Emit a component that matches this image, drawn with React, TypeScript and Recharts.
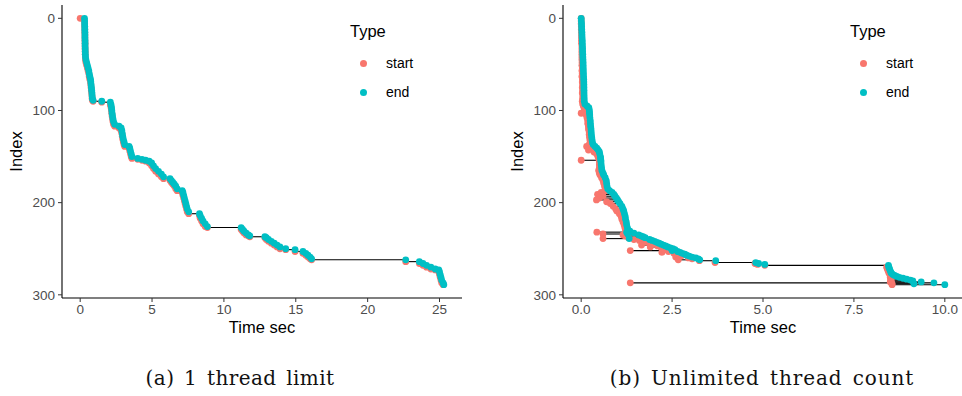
import React from 'react';
import { ErrorBar, Label, Scatter, ScatterChart, XAxis, YAxis } from 'recharts';

// (a) 1 thread limit
const leftIndex = [
  0, 3, 6, 9, 12, 15, 18, 21, 24, 27, 30, 33, 36, 39, 42, 45, 48, 51, 54, 57, 60, 63, 66, 69, 72, 75, 78, 81, 84, 87,
  89, 90, 91, 94, 97, 100, 103, 106, 109, 112, 115, 117, 119, 122, 125, 128, 131, 134, 137, 139, 141, 144, 147, 150,
  152, 153, 154, 155, 157, 160, 163, 166, 169, 172, 174, 176, 178, 180, 182, 185, 187, 189, 192, 195, 198, 201, 204,
  207, 210, 212, 214, 217, 220, 223, 226, 227, 229, 231, 233, 235, 236, 237, 238, 240, 242, 244, 246, 248, 250, 251,
  253, 255, 257, 259, 261, 262, 264, 266, 268, 270, 272, 273, 275, 278, 281, 284, 287, 289,
];
const leftStart = [
  0.0, 0.3, 0.31, 0.31, 0.32, 0.32, 0.33, 0.33, 0.33, 0.34, 0.34, 0.34, 0.35, 0.35, 0.36, 0.37, 0.4, 0.45, 0.5, 0.55,
  0.6, 0.63, 0.67, 0.72, 0.74, 0.76, 0.78, 0.8, 0.82, 0.83, 0.85, 0.9, 1.5, 2.1, 2.15, 2.18, 2.2, 2.22, 2.25, 2.28,
  2.32, 2.4, 2.7, 2.85, 2.9, 2.93, 2.96, 3.0, 3.05, 3.1, 3.4, 3.45, 3.5, 3.55, 3.6, 4.0, 4.3, 4.55, 4.8, 4.97, 5.1,
  5.25, 5.45, 5.65, 5.8, 6.25, 6.35, 6.45, 6.55, 6.65, 6.75, 7.1, 7.15, 7.2, 7.25, 7.3, 7.35, 7.4, 7.45, 7.55, 8.3,
  8.35, 8.45, 8.55, 8.7, 8.85, 11.2, 11.3, 11.4, 11.55, 11.7, 11.8, 12.85, 12.95, 13.1, 13.3, 13.5, 13.7, 13.9, 14.3,
  14.95, 15.5, 15.7, 15.85, 16.0, 16.1, 22.65, 23.6, 23.85, 24.1, 24.4, 24.7, 24.95, 25.0, 25.05, 25.1, 25.15, 25.25,
];
const leftEnd = [
  0.3, 0.31, 0.31, 0.32, 0.32, 0.33, 0.33, 0.33, 0.34, 0.34, 0.34, 0.35, 0.35, 0.36, 0.37, 0.4, 0.45, 0.5, 0.55, 0.6,
  0.63, 0.67, 0.72, 0.74, 0.76, 0.78, 0.8, 0.82, 0.83, 0.85, 0.9, 1.5, 2.1, 2.15, 2.18, 2.2, 2.22, 2.25, 2.28, 2.32,
  2.4, 2.7, 2.85, 2.9, 2.93, 2.96, 3.0, 3.05, 3.1, 3.4, 3.45, 3.5, 3.55, 3.6, 4.0, 4.3, 4.55, 4.8, 4.97, 5.1, 5.25,
  5.45, 5.65, 5.8, 6.25, 6.35, 6.45, 6.55, 6.65, 6.75, 7.1, 7.15, 7.2, 7.25, 7.3, 7.35, 7.4, 7.45, 7.55, 8.3, 8.35,
  8.45, 8.55, 8.7, 8.85, 11.2, 11.3, 11.4, 11.55, 11.7, 11.8, 12.85, 12.95, 13.1, 13.3, 13.5, 13.7, 13.9, 14.3, 14.95,
  15.5, 15.7, 15.85, 16.0, 16.1, 22.65, 23.6, 23.85, 24.1, 24.4, 24.7, 24.95, 25.0, 25.05, 25.1, 25.15, 25.25, 25.3,
];

// (b) Unlimited thread count
const rightIndex = [
  0, 3, 6, 9, 12, 15, 18, 21, 24, 27, 30, 33, 36, 39, 42, 45, 48, 51, 54, 57, 60, 63, 66, 69, 72, 75, 78, 81, 84, 87,
  90, 93, 95, 97, 99, 101, 103, 105, 108, 111, 114, 117, 120, 123, 126, 129, 132, 135, 137, 139, 141, 143, 145, 147,
  150, 152, 154, 156, 159, 162, 165, 168, 170, 173, 176, 179, 182, 185, 187, 189, 191, 193, 195, 197, 199, 201, 204,
  207, 209, 212, 215, 218, 221, 224, 227, 230, 231, 232, 233, 234, 235, 236, 237, 238, 239, 240, 241, 242, 243, 244,
  245, 246, 247, 248, 249, 250, 251, 252, 253, 254, 255, 256, 257, 258, 259, 260, 261, 262, 263, 265, 266, 267, 268,
  270, 272, 274, 276, 277, 278, 279, 280, 281, 282, 283, 284, 285, 286, 287, 288, 289,
];
const rightStart = [
  0.0, 0.0, 0.0, 0.005, 0.005, 0.01, 0.01, 0.01, 0.01, 0.01, 0.02, 0.02, 0.02, 0.02, 0.02, 0.02, 0.025, 0.02, 0.03,
  0.02, 0.03, 0.02, 0.035, 0.03, 0.04, 0.03, 0.04, 0.03, 0.045, 0.04, 0.03, 0.04, 0.06, 0.08, 0.1, 0.12, 0.0, 0.14,
  0.16, 0.18, 0.18, 0.2, 0.2, 0.22, 0.22, 0.23, 0.24, 0.25, 0.22, 0.15, 0.25, 0.2, 0.35, 0.42, 0.46, 0.48, 0.0, 0.5,
  0.5, 0.5, 0.48, 0.5, 0.52, 0.56, 0.6, 0.62, 0.64, 0.66, 0.7, 0.55, 0.45, 0.6, 0.5, 0.42, 0.7, 0.8, 0.88, 0.95, 0.98,
  1.05, 1.1, 1.12, 1.15, 1.18, 1.2, 1.22, 1.25, 0.43, 1.3, 0.6, 1.15, 1.2, 1.3, 1.3, 0.6, 1.45, 1.6, 1.7, 1.8, 1.9,
  1.95, 1.66, 2.1, 1.9, 2.2, 2.3, 2.35, 1.35, 2.4, 2.22, 2.55, 2.6, 2.7, 2.75, 2.6, 2.95, 3.05, 2.67, 3.25, 3.68,
  4.78, 4.85, 5.05, 8.4, 8.42, 8.44, 8.46, 8.48, 8.5, 8.5, 8.5, 8.5, 8.52, 8.52, 8.52, 8.52, 8.5, 1.35, 8.55, 8.55,
];
const rightEnd = [
  0.0, 0.005, 0.01, 0.012, 0.015, 0.02, 0.022, 0.025, 0.03, 0.032, 0.035, 0.038, 0.04, 0.043, 0.046, 0.05, 0.053,
  0.055, 0.058, 0.06, 0.063, 0.066, 0.07, 0.072, 0.074, 0.075, 0.077, 0.078, 0.08, 0.082, 0.085, 0.1, 0.16, 0.21,
  0.22, 0.225, 0.23, 0.235, 0.24, 0.25, 0.255, 0.26, 0.27, 0.275, 0.28, 0.29, 0.3, 0.31, 0.33, 0.38, 0.43, 0.47, 0.5,
  0.51, 0.53, 0.535, 0.54, 0.545, 0.55, 0.56, 0.57, 0.6, 0.62, 0.66, 0.69, 0.7, 0.71, 0.73, 0.78, 0.85, 0.9, 0.93,
  0.97, 1.0, 1.03, 1.07, 1.12, 1.15, 1.17, 1.19, 1.21, 1.22, 1.24, 1.25, 1.27, 1.3, 1.34, 1.25, 1.45, 1.28, 1.58,
  1.64, 1.7, 1.76, 1.32, 1.88, 1.95, 2.02, 2.08, 2.14, 2.2, 2.26, 2.32, 2.38, 2.45, 2.52, 2.58, 2.5, 2.65, 2.72, 2.78,
  2.85, 2.9, 2.97, 3.05, 3.15, 3.22, 3.26, 3.7, 4.8, 4.88, 5.05, 8.45, 8.46, 8.48, 8.5, 8.52, 8.54, 8.57, 8.62, 8.68,
  8.75, 8.85, 8.95, 9.05, 9.12, 9.35, 9.7, 9.15, 10.0,
];

const leftXTicks = [0, 5, 10, 15, 20, 25];
const rightXTicks = [0, 2.5, 5, 7.5, 10];
const indexTicks = [0, 100, 200, 300];
const typeLabels = ['start', 'end'];

const RED = '#F8766D';
const CYAN = '#00BFC4';
const SANS = '"Liberation Sans", Arial, sans-serif';

const rowsOf = (idx: number[], st: number[], en: number[]) =>
  idx.map((y, k) => ({ y, start: st[k], end: en[k] }));

const dot = (fill: string) => (p: any) => <circle cx={p.cx} cy={p.cy} r={3.4} fill={fill} />;

const yTitle = (x: number) => (p: any) => {
  const vb = p.viewBox;
  const cy = vb.y + vb.height / 2;
  return (
    <text x={x} y={cy} transform={`rotate(-90 ${x} ${cy})`} textAnchor="middle" dominantBaseline="central"
      fontFamily={SANS} fontSize={16.5} fill="#000">
      Index
    </text>
  );
};

const xTitle = (p: any) => {
  const vb = p.viewBox;
  return (
    <text x={vb.x + vb.width / 2} y={vb.y + 29} textAnchor="middle" dominantBaseline="central"
      fontFamily={SANS} fontSize={16.5} fill="#000">
      Time sec
    </text>
  );
};

type PanelProps = {
  idx: number[];
  st: number[];
  en: number[];
  xDomain: [number, number];
  xTicks: number[];
  fmt: (v: number) => string;
  yAxisWidth: number;
  titleX: number;
};

const Panel = ({ idx, st, en, xDomain, xTicks, fmt, yAxisWidth, titleX }: PanelProps) => {
  const rows = rowsOf(idx, st, en);
  const segs = rows.map((r) => ({ x: r.end, y: r.y, err: [r.end - r.start, 0] }));
  const starts = rows.map((r) => ({ x: r.start, y: r.y }));
  const ends = rows.map((r) => ({ x: r.end, y: r.y }));
  return (
    <ScatterChart width={481} height={340} margin={{ top: 5, right: 481 - 62 - 400 - (yAxisWidth - 62), bottom: 7, left: 0 }}>
      <XAxis type="number" dataKey="x" domain={xDomain} allowDataOverflow ticks={xTicks} interval={0}
        tickFormatter={fmt} height={35} tickSize={4} tickMargin={2}
        axisLine={{ stroke: '#000', strokeWidth: 1.1 }} tickLine={{ stroke: '#333' }}
        tick={{ fill: '#4D4D4D', fontSize: 13.5, fontFamily: SANS }}>
        <Label content={xTitle} />
      </XAxis>
      <YAxis type="number" dataKey="y" reversed domain={[-14.45, 303.45]} allowDataOverflow ticks={indexTicks}
        interval={0} width={yAxisWidth} tickSize={4} tickMargin={3}
        axisLine={{ stroke: '#000', strokeWidth: 1.1 }} tickLine={{ stroke: '#333' }}
        tick={{ fill: '#4D4D4D', fontSize: 13.5, fontFamily: SANS }}>
        <Label content={yTitle(titleX)} />
      </YAxis>
      <Scatter data={segs} isAnimationActive={false} shape={() => <g />}>
        <ErrorBar dataKey="err" direction="x" width={0} stroke="#000" strokeWidth={1.1} isAnimationActive={false} />
      </Scatter>
      <Scatter data={starts} isAnimationActive={false} shape={dot(RED)} />
      <Scatter data={ends} isAnimationActive={false} shape={dot(CYAN)} />
    </ScatterChart>
  );
};

const TypeLegend = ({ left }: { left: number }) => (
  <div style={{ position: 'absolute', left, top: 0, fontFamily: SANS }}>
    <div style={{ position: 'absolute', left: 0, top: 22, fontSize: 16.5, whiteSpace: 'nowrap' }}>Type</div>
    {typeLabels.map((t, k) => (
      <div key={t} style={{ position: 'absolute', left: 0, top: 55 + k * 29, whiteSpace: 'nowrap' }}>
        <span style={{ position: 'absolute', left: 10, top: 4.5, width: 7, height: 7, borderRadius: 4,
          background: k === 0 ? RED : CYAN }} />
        <span style={{ position: 'absolute', left: 36, top: 0, fontSize: 14, lineHeight: '16px' }}>{t}</span>
      </div>
    ))}
  </div>
);

const captionStyle: React.CSSProperties = {
  position: 'absolute', top: 366, fontFamily: '"DejaVu Serif", serif', fontSize: 20, color: '#111',
  whiteSpace: 'nowrap', transform: 'translateX(-50%)', letterSpacing: 0.4, wordSpacing: 3,
};

export default function App() {
  return (
    <div style={{ position: 'absolute', left: 0, top: 0, width: 962, height: 396, background: '#fff', overflow: 'hidden' }}>
      <div style={{ position: 'absolute', left: 0, top: 0 }}>
        <Panel idx={leftIndex} st={leftStart} en={leftEnd} xDomain={[-1.265, 26.565]} xTicks={leftXTicks}
          fmt={(v) => String(v)} yAxisWidth={62} titleX={16} />
      </div>
      <div style={{ position: 'absolute', left: 481, top: 0 }}>
        <Panel idx={rightIndex} st={rightStart} en={rightEnd} xDomain={[-0.5, 10.5]} xTicks={rightXTicks}
          fmt={(v) => v.toFixed(1)} yAxisWidth={82} titleX={36} />
      </div>
      <TypeLegend left={350} />
      <TypeLegend left={850} />
      <div style={{ ...captionStyle, left: 240 }}>(a) 1 thread limit</div>
      <div style={{ ...captionStyle, left: 762, letterSpacing: 0.9 }}>(b) Unlimited thread count</div>
    </div>
  );
}
